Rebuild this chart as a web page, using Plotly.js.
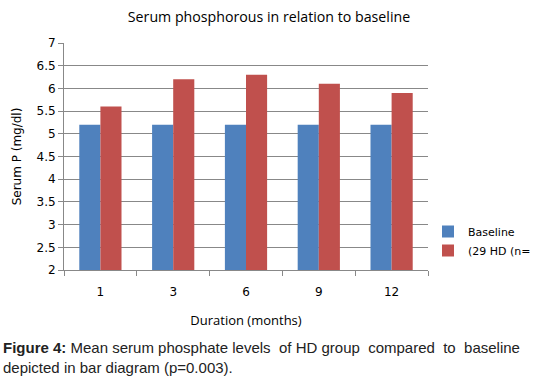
<!DOCTYPE html>
<html><head><meta charset="utf-8">
<script src="https://cdn.plot.ly/plotly-3.0.1.min.js"></script>
<style>html,body{margin:0;padding:0;background:#fff}#c{width:538px;height:380px}</style>
</head><body><div id="c"></div>
<script>
const categories = ["1", "3", "6", "9", "12"];
const baseline = [5.2, 5.2, 5.2, 5.2, 5.2];
const hd = [5.6, 6.2, 6.3, 6.1, 5.9];
const seriesNames = ["Baseline", "(29 HD (n="];

const tickFont = {family: "DejaVu Sans, Verdana, sans-serif", size: 12, color: "#000"};
const capFont = {family: "Liberation Sans, Arial, sans-serif", size: 15, color: "#222"};
const data = [
  {type: "bar", x: categories, y: baseline, name: seriesNames[0], marker: {color: "#4F81BD"}},
  {type: "bar", x: categories, y: hd, name: seriesNames[1], marker: {color: "#C0504D"}}
];
const layout = {
  width: 538, height: 380,
  margin: {l: 64, r: 110, t: 43, b: 110},
  paper_bgcolor: "#fff", plot_bgcolor: "#fff",
  barmode: "group", bargap: 0.42, bargroupgap: 0,
  title: {text: "Serum phosphorous in relation to baseline", x: 0.5, xanchor: "center", y: 0.955, yanchor: "middle",
    font: {family: "Open Sans, sans-serif", size: 14.2, color: "#000"}},
  xaxis: {type: "category", showgrid: false, showline: true, linecolor: "#888", linewidth: 1,
    ticks: "outside", tickson: "boundaries", ticklen: 5, tickcolor: "#888", tickfont: tickFont,
    ticklabelstandoff: 11,
    title: {text: "Duration (months)", font: {family: "Open Sans, sans-serif", size: 13, color: "#000"}, standoff: 17}},
  yaxis: {range: [2, 7], dtick: 0.5, showgrid: true, gridcolor: "#888", gridwidth: 1,
    showline: true, linecolor: "#888", linewidth: 1, ticks: "outside", ticklen: 5, tickcolor: "#888",
    tickfont: tickFont, zeroline: false,
    title: {text: "Serum P (mg/dl)", font: {family: "DejaVu Sans, sans-serif", size: 12, color: "#000"}, standoff: 12}},
  legend: {xref: "container", yref: "container", x: 428/538, xanchor: "left", y: 1 - 241/380, yanchor: "middle",
    font: {family: "DejaVu Sans, sans-serif", size: 11, color: "#000"},
    itemwidth: 30, bgcolor: "rgba(0,0,0,0)"},
  annotations: [
    {xref: "paper", yref: "paper", x: -0.172, y: -0.34, xanchor: "left", yanchor: "middle", showarrow: false, align: "left",
      text: "<b>Figure 4:</b> Mean serum phosphate levels&nbsp; of HD group&nbsp; compared&nbsp; to&nbsp; baseline",
      font: capFont},
    {xref: "paper", yref: "paper", x: -0.172, y: -0.43, xanchor: "left", yanchor: "middle", showarrow: false, align: "left",
      text: "depicted in bar diagram (p=0.003).",
      font: capFont}
  ]
};
Plotly.newPlot("c", data, layout, {displayModeBar: false, staticPlot: true});
</script></body></html>
